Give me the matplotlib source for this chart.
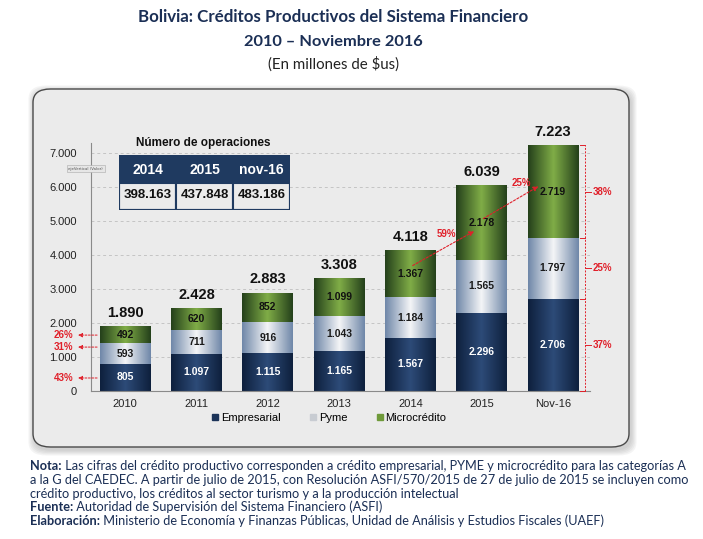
import numpy as np
import matplotlib
matplotlib.use("Agg")
import matplotlib.pyplot as plt
from matplotlib.patches import FancyBboxPatch, Rectangle
from matplotlib.colors import LinearSegmentedColormap
from matplotlib.lines import Line2D

# ---------------- data ----------------
categories = ["2010", "2011", "2012", "2013", "2014", "2015", "Nov-16"]
empresarial = [805, 1097, 1115, 1165, 1567, 2296, 2706]
pyme = [593, 711, 916, 1043, 1184, 1565, 1797]
microcredito = [492, 620, 852, 1099, 1367, 2178, 2719]
totals = [1890, 2428, 2883, 3308, 4118, 6039, 7223]
share_2010 = ["43%", "31%", "26%"]
share_nov16 = ["37%", "25%", "38%"]
growth_labels = ["59%", "25%"]
table_headers = ["2014", "2015", "nov-16"]
table_ops = ["398.163", "437.848", "483.186"]
yticks = [0, 1000, 2000, 3000, 4000, 5000, 6000, 7000]

def fmt(v):
    return f"{v:,}".replace(",", ".")

NAVY = "#1b2f55"
RED = "#e0202a"
TFONT = ["Lato", "DejaVu Sans"]
CFONT = ["Liberation Sans", "DejaVu Sans"]
W, H = 703, 539

fig = plt.figure(figsize=(7.03, 5.39), dpi=100)
fig.patch.set_facecolor("white")

# ---------------- titles ----------------
fig.text(0.474, 0.968, "Bolivia: Créditos Productivos del Sistema Financiero",
         ha="center", va="center", fontsize=12.2, fontweight="bold", color=NAVY, family=TFONT)
fig.text(0.474, 0.922, "2010 – Noviembre 2016", ha="center", va="center",
         fontsize=11.8, fontweight="bold", color=NAVY, family=TFONT)
fig.text(0.474, 0.882, "(En millones de $us)", ha="center", va="center",
         fontsize=10.8, color="#222222", family=TFONT)

# ---------------- panel ----------------
px0, py0, pw, ph = 33 / W, 1 - 447 / H, (629 - 33) / W, (447 - 89) / H
for k in range(5, 0, -1):
    off = k * 1.2
    sh = FancyBboxPatch((px0 + 1.5 / W - off / W, py0 - 2.5 / H - off / H),
                        pw + 2 * off / W, ph + 2 * off / H,
                        boxstyle="round,pad=0,rounding_size=0.025",
                        transform=fig.transFigure, facecolor="#707070", alpha=0.07,
                        edgecolor="none", zorder=-3)
    fig.patches.append(sh)
panel = FancyBboxPatch((px0, py0), pw, ph, boxstyle="round,pad=0,rounding_size=0.025",
                       transform=fig.transFigure, facecolor="#ebebeb", edgecolor="#4a4a4a",
                       linewidth=1.0, zorder=-2)
fig.patches.append(panel)

# ---------------- axes ----------------
ax = fig.add_axes([0.1294, 0.2746, 0.7098, 0.4668])
ax.set_facecolor("none")
x = np.arange(len(categories))
w = 0.71

cm_emp = LinearSegmentedColormap.from_list("emp", ["#0e203d", "#2d4b78", "#0e203d"])
cm_pyme = LinearSegmentedColormap.from_list("pyme", ["#6f87a8", "#f4f5f7", "#6f87a8"])
cm_mic = LinearSegmentedColormap.from_list("mic", ["#24401b", "#80ad47", "#24401b"])
grad = np.linspace(0, 1, 200).reshape(1, -1)

b1 = ax.bar(x, empresarial, w, color="#1b3358", zorder=2)
bottom2 = np.array(empresarial)
b2 = ax.bar(x, pyme, w, bottom=bottom2, color="#c8d0dc", zorder=2)
bottom3 = bottom2 + np.array(pyme)
b3 = ax.bar(x, microcredito, w, bottom=bottom3, color="#5c8a35", zorder=2)

for cont, cm in ((b1, cm_emp), (b2, cm_pyme), (b3, cm_mic)):
    for p in cont.patches:
        x0, y0 = p.get_x(), p.get_y()
        ax.imshow(grad, extent=[x0, x0 + p.get_width(), y0, y0 + p.get_height()],
                  aspect="auto", cmap=cm, zorder=2.5, interpolation="bilinear")

ax.set_xlim(-0.48, 6.52)
ax.set_ylim(0, 7400)
ax.set_yticks(yticks)
ax.set_yticklabels([fmt(v) for v in yticks], family=CFONT, fontsize=8, color="#222222")
ax.set_xticks(x)
ax.set_xticklabels(categories, family=CFONT, fontsize=8, color="#222222")
ax.tick_params(axis="x", length=0, pad=6)
ax.tick_params(axis="y", length=0, pad=10)
for s in ("top", "right"):
    ax.spines[s].set_visible(False)
ax.spines["left"].set_color("#8a8a8a")
ax.spines["bottom"].set_color("#8a8a8a")
ax.spines["left"].set_bounds(0, 7300)
ax.yaxis.grid(True, linestyle=(0, (3, 3)), color="#c4c4c4", linewidth=0.7, zorder=1)
ax.set_axisbelow(True)

# segment labels
for i in range(len(categories)):
    ax.text(x[i], empresarial[i] / 2, fmt(empresarial[i]), ha="center", va="center",
            fontsize=7.5, fontweight="bold", color="white", family=CFONT, zorder=4)
    ax.text(x[i], bottom2[i] + pyme[i] / 2, fmt(pyme[i]), ha="center", va="center",
            fontsize=7.5, fontweight="bold", color="#1a1a1a", family=CFONT, zorder=4)
    ax.text(x[i], bottom3[i] + microcredito[i] / 2, fmt(microcredito[i]), ha="center", va="center",
            fontsize=7.5, fontweight="bold", color="#111111", family=CFONT, zorder=4)
    ax.text(x[i], bottom3[i] + microcredito[i] + 200, fmt(totals[i]), ha="center", va="bottom",
            fontsize=10.5, fontweight="bold", color="#111111", family=CFONT, zorder=4)

# 2010 shares arrows (pyme arrow nudged up to clear the 1.000 tick label)
mids_2010 = [empresarial[0] / 2 - 20, bottom2[0] + pyme[0] / 2 + 190, bottom3[0] + microcredito[0] / 2]
for m, lab in zip(mids_2010, share_2010):
    ax.annotate("", xy=(-0.70, m), xytext=(x[0] - w / 2, m),
                arrowprops=dict(arrowstyle="-|>", color=RED, lw=0.7, linestyle=(0, (2, 1.5)),
                                mutation_scale=6), annotation_clip=False, zorder=5)
    ax.text(-0.73, m, lab, ha="right", va="center", fontsize=7, fontweight="bold",
            color=RED, family=CFONT, clip_on=False)

# Nov-16 bracket
bx = 6.45
bounds = [0, empresarial[6], bottom3[6], totals[6]]
ax.plot([bx, bx], [0, totals[6]], color=RED, lw=0.7, linestyle=(0, (2, 1.5)), clip_on=False, zorder=5)
for b in bounds:
    ax.plot([bx - 0.07, bx], [b, b], color=RED, lw=0.7, clip_on=False, zorder=5)
for lo, hi, lab in zip(bounds[:-1], bounds[1:], share_nov16):
    m = (lo + hi) / 2
    ax.plot([bx, bx + 0.08], [m, m], color=RED, lw=0.7, clip_on=False, zorder=5)
    ax.text(bx + 0.11, m, lab, ha="left", va="center", fontsize=7, fontweight="bold",
            color=RED, family=CFONT, clip_on=False)

# growth arrows on microcredito
ax.annotate("", xy=(4.93, 4740), xytext=(4.0, 3650),
            arrowprops=dict(arrowstyle="-|>", color=RED, lw=0.8, linestyle=(0, (2, 1.5)),
                            mutation_scale=7), zorder=5)
ax.annotate("", xy=(5.83, 6060), xytext=(4.99, 5030),
            arrowprops=dict(arrowstyle="-|>", color=RED, lw=0.8, linestyle=(0, (2, 1.5)),
                            mutation_scale=7), zorder=5)
ax.text(4.5, 4620, growth_labels[0], ha="center", va="center", fontsize=7, fontweight="bold",
        color=RED, family=CFONT, zorder=5)
ax.text(5.56, 6130, growth_labels[1], ha="center", va="center", fontsize=7, fontweight="bold",
        color=RED, family=CFONT, zorder=5)

# tiny tooltip artifact
fig.text(0.122, 0.687, "ejeVertical (Valor)", fontsize=2.8, ha="center", va="center", color="#555555",
         bbox=dict(boxstyle="square,pad=0.4", facecolor="#e6e6e6", edgecolor="#aaaaaa", lw=0.4))

# ---------------- operations table ----------------
fig.text(0.289, 0.735, "Número de operaciones", ha="center", va="center", fontsize=8.5,
         fontweight="bold", color="#111111", family=CFONT)
tbl = fig.add_axes([119 / W, 1 - 210 / H, (290 - 119) / W, (210 - 155) / H])
tbl.set_xlim(0, 3)
tbl.set_ylim(0, 2)
tbl.axis("off")
for j in range(3):
    tbl.add_patch(Rectangle((j, 1.0), 1, 1.0, facecolor="#1f3a60", edgecolor="#1f3a60", lw=1))
    tbl.add_patch(Rectangle((j, 0), 1, 1.0, facecolor="#ebebeb", edgecolor="#1f3a60", lw=1.5))
    tbl.text(j + 0.5, 1.47, table_headers[j], ha="center", va="center", color="white",
             fontsize=10, fontweight="bold", family=CFONT)
    tbl.text(j + 0.5, 0.55, table_ops[j], ha="center", va="center", color="#111111",
             fontsize=9.5, fontweight="bold", family=CFONT)
tbl.add_patch(Rectangle((0, 0), 3, 2, facecolor="none", edgecolor="#1f3a60", lw=1.5))

# ---------------- legend ----------------
handles = [Line2D([], [], marker="s", linestyle="none", markersize=4.5, color=c)
           for c in ("#1b3358", "#c8ccd2", "#6f9a3a")]
fig.legend(handles, ["Empresarial", "Pyme", "Microcrédito"], loc="center",
           bbox_to_anchor=(0.468, 0.2245), ncol=3, frameon=False, handlelength=0.6,
           handletextpad=0.25, columnspacing=2.6, prop=dict(family=CFONT, size=8))

# ---------------- footnotes ----------------
notes = [
    ("Nota:", " Las cifras del crédito productivo corresponden a crédito empresarial, PYME y microcrédito para las categorías A"),
    ("", "a la G del CAEDEC. A partir de julio de 2015, con Resolución ASFI/570/2015 de 27 de julio de 2015 se incluyen como"),
    ("", "crédito productivo, los créditos al sector turismo y a la producción intelectual"),
    ("Fuente:", " Autoridad de Supervisión del Sistema Financiero (ASFI)"),
    ("Elaboración:", " Ministerio de Economía y Finanzas Públicas, Unidad de Análisis y Estudios Fiscales (UAEF)"),
]
ys = [466, 480, 494, 507, 521]
FS = 9.2
for (b, t), yy in zip(notes, ys):
    if b:
        lab = fig.text(30 / W, 1 - yy / H, b, ha="left", va="center", fontsize=FS,
                       fontweight="bold", color=NAVY, family=TFONT)
        ax.annotate(t, xy=(1, 0), xycoords=lab, va="bottom", ha="left",
                    fontsize=FS, color=NAVY, family=TFONT, annotation_clip=False)
    else:
        fig.text(30 / W, 1 - yy / H, t, ha="left", va="center", fontsize=FS,
                 color=NAVY, family=TFONT)

fig.savefig("out.png", dpi=100, facecolor="white")
